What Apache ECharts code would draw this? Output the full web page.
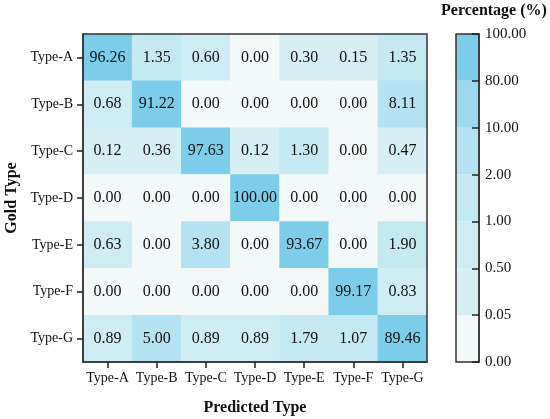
<!DOCTYPE html>
<html>
<head>
<meta charset="utf-8">
<script src="https://cdn.jsdelivr.net/npm/echarts@6/dist/echarts.min.js"></script>
<style>
  html, body { margin: 0; padding: 0; background: #fff; }
  #chart { width: 550px; height: 419px; }
</style>
</head>
<body>
<div id="chart"></div>
<script>
// 混同行列（行 = Gold Type, 列 = Predicted Type）, 値は %
const types = ['Type-A', 'Type-B', 'Type-C', 'Type-D', 'Type-E', 'Type-F', 'Type-G'];
const rowA = [96.26, 1.35, 0.60, 0.00, 0.30, 0.15, 1.35];
const rowB = [0.68, 91.22, 0.00, 0.00, 0.00, 0.00, 8.11];
const rowC = [0.12, 0.36, 97.63, 0.12, 1.30, 0.00, 0.47];
const rowD = [0.00, 0.00, 0.00, 100.00, 0.00, 0.00, 0.00];
const rowE = [0.63, 0.00, 3.80, 0.00, 93.67, 0.00, 1.90];
const rowF = [0.00, 0.00, 0.00, 0.00, 0.00, 99.17, 0.83];
const rowG = [0.89, 5.00, 0.89, 0.89, 1.79, 1.07, 89.46];
const rows = [rowA, rowB, rowC, rowD, rowE, rowF, rowG];

// カラーバーの境界値
const bounds = [0, 0.05, 0.5, 1, 2, 10, 80, 100];
const boundLabels = ['0.00', '0.05', '0.50', '1.00', '2.00', '10.00', '80.00', '100.00'];
const levelColors = ['#f3f9f9', '#d6eff5', '#ceecf4', '#c5e9f3', '#b4e2f2', '#9dd8ee', '#7ccdea'];

(() => {
  const font = '"Liberation Serif", "Times New Roman", serif';
  const cells = [];
  rows.forEach((r, i) => r.forEach((v, j) => cells.push([j, i, v])));

  const pieces = levelColors.map((c, k) => ({
    gte: bounds[k],
    lt: k === levelColors.length - 1 ? undefined : bounds[k + 1],
    lte: k === levelColors.length - 1 ? bounds[k + 1] : undefined,
    color: c,
  }));

  // カラーバー: 7段を同じ高さで積む
  const barSeries = levelColors.map((c) => ({
    type: 'bar',
    xAxisIndex: 1,
    yAxisIndex: 1,
    stack: 'cb',
    barWidth: '100%',
    data: [1],
    itemStyle: { color: c },
    silent: true,
    z: 1,
  }));

  const line = { show: true, lineStyle: { color: '#333', width: 1.5 } };

  const chart = echarts.init(document.getElementById('chart'), null, { renderer: 'canvas' });
  chart.setOption({
    backgroundColor: '#fff',
    animation: false,
    textStyle: { fontFamily: font },
    title: {
      text: 'Percentage (%)',
      left: 436,
      top: -2,
      textStyle: { fontFamily: font, fontSize: 16, fontWeight: 'bold', color: '#111' },
    },
    grid: [
      { left: 83, top: 34, width: 344, height: 328, show: true, z: 5, outerBoundsMode: 'none',
        containLabel: false, backgroundColor: 'transparent', borderColor: '#333', borderWidth: 1.5 },
      { left: 456, top: 34, width: 23, height: 328, show: true, z: 5, outerBoundsMode: 'none',
        containLabel: false, backgroundColor: 'transparent', borderColor: '#333', borderWidth: 1.5 },
    ],
    xAxis: [
      {
        type: 'category',
        gridIndex: 0,
        z: 10,
        data: types,
        name: 'Predicted Type',
        nameLocation: 'middle',
        nameGap: 38,
        nameTextStyle: { fontFamily: font, fontSize: 16, fontWeight: 'bold', color: '#111' },
        axisLine: line,
        axisTick: { show: true, alignWithLabel: true, length: 6, lineStyle: { color: '#222', width: 1.5 } },
        axisLabel: { fontFamily: font, fontSize: 14, color: '#111', margin: 9, interval: 0 },
        splitLine: { show: false },
      },
      {
        type: 'category',
        gridIndex: 1,
        data: [''],
        show: false,
      },
    ],
    yAxis: [
      {
        type: 'category',
        gridIndex: 0,
        z: 10,
        data: types,
        inverse: true,
        name: 'Gold Type',
        nameLocation: 'middle',
        nameGap: 62,
        nameTextStyle: { fontFamily: font, fontSize: 16, fontWeight: 'bold', color: '#111' },
        axisLine: line,
        axisTick: { show: true, alignWithLabel: true, length: 6, lineStyle: { color: '#222', width: 1.5 } },
        axisLabel: { fontFamily: font, fontSize: 14, color: '#111', margin: 10, interval: 0 },
        splitLine: { show: false },
      },
      {
        type: 'value',
        gridIndex: 1,
        z: 10,
        position: 'right',
        min: 0,
        max: boundLabels.length - 1,
        interval: 1,
        axisLine: line,
        axisTick: { show: true, inside: true, length: 7, lineStyle: { color: '#222', width: 1.5 } },
        axisLabel: {
          fontFamily: font, fontSize: 15, color: '#111', margin: 6,
          formatter: (v) => boundLabels[Math.round(v)],
        },
        splitLine: { show: false },
      },
    ],
    visualMap: {
      type: 'piecewise',
      show: false,
      dimension: 2,
      seriesIndex: 0,
      pieces,
    },
    series: [
      {
        type: 'heatmap',
        xAxisIndex: 0,
        yAxisIndex: 0,
        data: cells,
        label: {
          show: true,
          fontFamily: font,
          fontSize: 16,
          color: '#111',
          formatter: (p) => p.value[2].toFixed(2),
        },
        itemStyle: { borderWidth: 0 },
        emphasis: { disabled: true },
      },
      ...barSeries,
    ],
  });

  window.addEventListener('resize', () => chart.resize());
})();
</script>
</body>
</html>
